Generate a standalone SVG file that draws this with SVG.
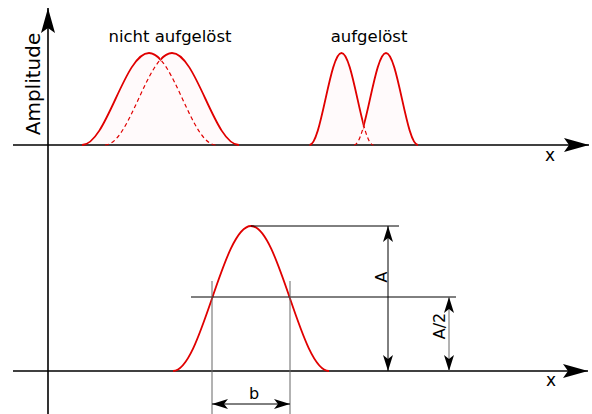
<svg xmlns="http://www.w3.org/2000/svg" width="592" height="414" viewBox="0 0 592 414">
<style>
  text { font-family: "DejaVu Sans", Verdana, sans-serif; fill: #000; }
  .axis { stroke: #000; stroke-width: 1.6; fill: none; }
  .dim { stroke: #000; stroke-width: 1; fill: none; }
  .gray { stroke: #666; stroke-width: 1; fill: none; }
  .curve { stroke: #e00000; stroke-width: 1.8; fill: none; }
  .dash { stroke: #e00000; stroke-width: 1.2; fill: none; stroke-dasharray: 4 3; }
  .fill { fill: #fffafb; stroke: none; }
</style>
<defs>
  <marker id="axisArrow" markerUnits="userSpaceOnUse" markerWidth="26" markerHeight="16" refX="25" refY="8" orient="auto" overflow="visible">
    <path d="M0,1 L25,8 L0,15 L5,8 Z" fill="#000"/>
  </marker>
  <marker id="dimArrow" markerUnits="userSpaceOnUse" markerWidth="16" markerHeight="10" refX="16" refY="5" orient="auto-start-reverse" overflow="visible">
    <path d="M0,0 L16,5 L0,10 L4,5 Z" fill="#000"/>
  </marker>
  <clipPath id="leftA"><rect x="0" y="0" width="160.5" height="200"/></clipPath>
  <clipPath id="rightA"><rect x="160.5" y="0" width="200" height="200"/></clipPath>
  <clipPath id="leftB"><rect x="280" y="0" width="83.75" height="200"/></clipPath>
  <clipPath id="rightB"><rect x="363.75" y="0" width="100" height="200"/></clipPath>
</defs>

<g id="fills">
  <path class="fill" d="M82,145 C106.4,145 124.6,53 149,53 C173.4,53 191.6,145 216,145 Z"/>
  <path class="fill" d="M105,145 C129.4,145 147.6,53 172,53 C196.4,53 214.6,145 239,145 Z"/>
  <path class="fill" d="M309.5,145 C321.2,145 329.8,53 341.5,53 C353.2,53 361.8,145 373.5,145 Z"/>
  <path class="fill" d="M354,145 C365.7,145 374.3,53 386,53 C397.7,53 406.3,145 418,145 Z"/>
</g>

<g id="axes">
  <line class="axis" x1="13" y1="145" x2="589" y2="145" marker-end="url(#axisArrow)"/>
  <line class="axis" x1="13" y1="371" x2="588" y2="371" marker-end="url(#axisArrow)"/>
  <line class="axis" x1="48" y1="414" x2="48" y2="8" marker-end="url(#axisArrow)"/>
</g>

<g id="nicht-aufgeloest">
  <path class="curve" clip-path="url(#leftA)" d="M82,145 C106.4,145 124.6,53 149,53 C173.4,53 191.6,145 216,145"/>
  <path class="dash" clip-path="url(#rightA)" d="M82,145 C106.4,145 124.6,53 149,53 C173.4,53 191.6,145 216,145"/>
  <path class="dash" clip-path="url(#leftA)" d="M105,145 C129.4,145 147.6,53 172,53 C196.4,53 214.6,145 239,145"/>
  <path class="curve" clip-path="url(#rightA)" d="M105,145 C129.4,145 147.6,53 172,53 C196.4,53 214.6,145 239,145"/>
  <text x="170" y="42" font-size="16.5" text-anchor="middle">nicht aufgelöst</text>
</g>

<g id="aufgeloest">
  <path class="curve" clip-path="url(#leftB)" d="M309.5,145 C321.2,145 329.8,53 341.5,53 C353.2,53 361.8,145 373.5,145"/>
  <path class="dash" clip-path="url(#rightB)" d="M309.5,145 C321.2,145 329.8,53 341.5,53 C353.2,53 361.8,145 373.5,145"/>
  <path class="dash" clip-path="url(#leftB)" d="M354,145 C365.7,145 374.3,53 386,53 C397.7,53 406.3,145 418,145"/>
  <path class="curve" clip-path="url(#rightB)" d="M354,145 C365.7,145 374.3,53 386,53 C397.7,53 406.3,145 418,145"/>
  <text x="369" y="42" font-size="16.5" text-anchor="middle">aufgelöst</text>
</g>

<g id="peak">
  <path class="curve" d="M173,371 C201.4,371 222.6,226 251,226 C279.4,226 300.6,371 329,371"/>
</g>

<g id="connectors">
  <line class="dim" x1="251" y1="226" x2="399" y2="226"/>
  <line class="dim" x1="191" y1="297" x2="456" y2="297"/>
  <line class="dim" x1="388" y1="226" x2="388" y2="371" marker-start="url(#dimArrow)" marker-end="url(#dimArrow)"/>
  <line class="gray" x1="449" y1="297" x2="449" y2="371" marker-start="url(#dimArrow)" marker-end="url(#dimArrow)"/>
  <line class="gray" x1="212" y1="281" x2="212" y2="414"/>
  <line class="gray" x1="290" y1="281" x2="290" y2="414"/>
  <line class="dim" x1="212" y1="404" x2="290" y2="404" marker-start="url(#dimArrow)" marker-end="url(#dimArrow)"/>
</g>

<g id="labels">
  <text x="40" y="84" font-size="20" text-anchor="middle" transform="rotate(-90 40 84)">Amplitude</text>
  <text x="550" y="161" font-size="17" text-anchor="middle">x</text>
  <text x="551" y="386" font-size="17" text-anchor="middle">x</text>
  <text x="387" y="277" font-size="16" text-anchor="middle" transform="rotate(-90 387 277)">A</text>
  <text x="445" y="326" font-size="16" text-anchor="middle" transform="rotate(-90 445 326)">A/2</text>
  <text x="254" y="399" font-size="16" text-anchor="middle">b</text>
</g>
</svg>
